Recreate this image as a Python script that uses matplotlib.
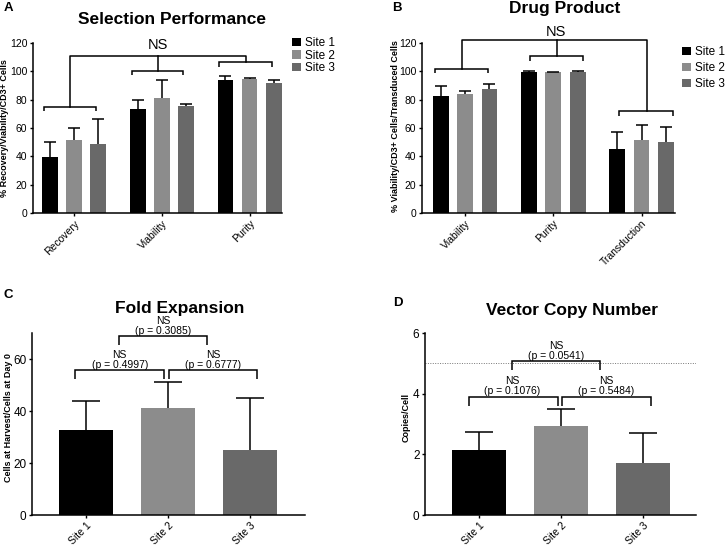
import numpy as np
import matplotlib
matplotlib.use('Agg')
import matplotlib.pyplot as plt
from matplotlib.patches import Patch

plt.rcParams['font.family'] = ['Liberation Sans', 'DejaVu Sans']

# данные
sites = ['Site 1', 'Site 2', 'Site 3']
site_colors = ['#000000', '#8c8c8c', '#696969']

sel_cats = ['Recovery', 'Viability', 'Purity']
sel_mean = [[39.5, 73.4, 93.6],   # Site 1
            [51.5, 81.2, 94.6],   # Site 2
            [48.7, 75.3, 91.8]]   # Site 3
sel_sd = [[10.3, 6.1, 2.9],
          [8.5, 12.9, 0.9],
          [17.7, 1.9, 2.3]]

dp_cats = ['Viability', 'Purity', 'Transduction']
dp_mean = [[82.7, 99.5, 45.4],
           [84.3, 99.8, 51.3],
           [87.8, 99.3, 49.9]]
dp_sd = [[6.8, 0.7, 12.0],
         [2.1, 0.0, 11.1],
         [3.5, 0.7, 11.0]]

fold_mean = [32.6, 41.3, 25.0]
fold_sd = [11.1, 9.9, 19.9]
fold_p = ['(p = 0.4997)', '(p = 0.6777)', '(p = 0.3085)']

vcn_mean = [2.13, 2.95, 1.70]
vcn_sd = [0.62, 0.55, 0.99]
vcn_p = ['(p = 0.1076)', '(p = 0.5484)', '(p = 0.0541)']
vcn_limit = 5

W, H = 726, 547
fig = plt.figure(figsize=(W / 100, H / 100), dpi=100)


def px_axes(l, t, r, b):
    return fig.add_axes([l / W, 1 - b / H, (r - l) / W, (b - t) / H])


def style(ax):
    for s in ['top', 'right']:
        ax.spines[s].set_visible(False)
    for s in ['left', 'bottom']:
        ax.spines[s].set_linewidth(1.1)
    ax.tick_params(width=1.0, length=2.5, labelsize=7.5, pad=1.5)


def bracket(ax, x1, x2, y, d1, d2=None, lw=1.1):
    if d2 is None:
        d2 = d1
    ax.plot([x1, x1, x2, x2], [y - d1, y, y, y - d2], color='k', lw=lw,
            clip_on=False, solid_capstyle='butt', solid_joinstyle='miter')


def ftext(x, y, s, **kw):
    fig.text(x / W, 1 - y / H, s, **kw)


def upper_err(ax, x, mean, sd, cap):
    # только верхний ус, как в Prism
    top = np.asarray(mean) + np.asarray(sd)
    ax.vlines(x, mean, top, color='k', lw=1.1)
    ax.plot(x, top, ls='none', marker='_', ms=cap, mew=1.1, color='k')


def grouped(ax, cats, mean, sd):
    x = np.arange(len(cats))
    offs = [-0.275, 0, 0.275]
    for i in range(3):
        ax.bar(x + offs[i], mean[i], 0.18, color=site_colors[i])
        upper_err(ax, x + offs[i], mean[i], sd[i], 8)
    ax.set_ylim(0, 120)
    ax.set_yticks(range(0, 121, 20))
    ax.set_xticks(x)
    ax.set_xticklabels(cats, rotation=45, ha='right', rotation_mode='anchor',
                       fontsize=8.5)
    style(ax)


# --- A ---
axA = px_axes(33, 43, 282, 213)
grouped(axA, sel_cats, sel_mean, sel_sd)
axA.set_xlim(-0.47, 2.37)
bracket(axA, -0.345, 0.25, 75, 2.8)
bracket(axA, 0.655, 1.24, 100.5, 3.2)
bracket(axA, 1.655, 2.26, 106.4, 3.2)
axA.plot([-0.05, -0.05, 1.955, 1.955], [75, 111, 111, 106.4], color='k',
         lw=1.1, clip_on=False)
axA.plot([0.95, 0.95], [111, 100.5], color='k', lw=1.1, clip_on=False)
axA.text(0.96, 118.8, 'NS', ha='center', va='center', fontsize=10.5)

# --- B ---
axB = px_axes(422, 43, 675, 213)
grouped(axB, dp_cats, dp_mean, dp_sd)
axB.set_xlim(-0.49, 2.38)
bracket(axB, -0.34, 0.26, 101.9, 3.0)
bracket(axB, 0.74, 1.34, 110.5, 3.3)
bracket(axB, 1.75, 2.36, 71.8, 3.5)
axB.plot([-0.04, -0.04, 2.06, 2.06], [101.9, 121.9, 121.9, 71.8], color='k',
         lw=1.1, clip_on=False)
axB.plot([1.04, 1.04], [121.9, 110.5], color='k', lw=1.1, clip_on=False)
axB.text(1.03, 127.8, 'NS', ha='center', va='center', fontsize=10.5)

# --- C ---
def single(ax, mean, sd):
    x = np.arange(3)
    ax.bar(x, mean, 0.66, color=site_colors)
    upper_err(ax, x, mean, sd, 19.5)
    ax.set_xticks(x)
    ax.set_xticklabels(sites, rotation=45, ha='right', rotation_mode='anchor',
                       fontsize=8.5)
    ax.set_xlim(-0.66, 2.67)
    style(ax)


axC = px_axes(32, 333, 305, 515)
single(axC, fold_mean, fold_sd)
axC.set_ylim(0, 70)
axC.set_yticks([0, 20, 40, 60])
axC.tick_params(axis='y', labelsize=8.5)
bracket(axC, -0.13, 0.95, 55.7, 3.4)
bracket(axC, 1.01, 2.09, 55.7, 3.4)
bracket(axC, 0.40, 1.48, 68.8, 3.6)
for xt, yt, p in [(0.41, 61.5, fold_p[0]), (1.55, 61.5, fold_p[1]),
                  (0.94, 74.6, fold_p[2])]:
    axC.text(xt, yt, 'NS', ha='center', va='center', fontsize=7.5, clip_on=False)
    axC.text(xt, yt - 4.0, p, ha='center', va='center', fontsize=7.5,
             clip_on=False)

# --- D ---
axD = px_axes(425, 333, 696, 515)
single(axD, vcn_mean, vcn_sd)
axD.set_xlim(-0.66, 2.65)
axD.set_ylim(0, 6)
axD.set_yticks([0, 2, 4, 6])
axD.tick_params(axis='y', labelsize=8.5)
axD.axhline(vcn_limit, color='#777777', lw=0.7, ls=(0, (1, 1.5)))
bracket(axD, -0.12, 0.96, 3.89, 0.31)
bracket(axD, 1.01, 2.10, 3.89, 0.31)
bracket(axD, 0.40, 1.48, 5.09, 0.3)
for xt, yt, p in [(0.41, 4.43, vcn_p[0]), (1.55, 4.43, vcn_p[1]),
                  (0.94, 5.58, vcn_p[2])]:
    axD.text(xt, yt, 'NS', ha='center', va='center', fontsize=7.5, clip_on=False)
    axD.text(xt, yt - 0.35, p, ha='center', va='center', fontsize=7.5,
             clip_on=False)

# подписи осей
ylab = dict(rotation=90, ha='center', va='center', fontsize=6.5,
            fontweight='bold')
ftext(5, 128, '% Recovery/Viability/CD3+ Cells', **ylab)
ftext(395, 126, '% Viability/CD3+ Cells/Transduced Cells', **ylab)
ftext(9, 418, 'Cells at Harvest/Cells at Day 0', **ylab)
ftext(406, 418, 'Copies/Cell', **ylab)

# заголовки
tt = dict(ha='center', va='center', fontsize=12.5, fontweight='bold')
ftext(172, 20, 'Selection Performance', **tt)
ftext(565, 8, 'Drug Product', **tt)
ftext(180, 308, 'Fold Expansion', **tt)
ftext(572, 310, 'Vector Copy Number', **tt)

pl = dict(ha='center', va='center', fontsize=9.5, fontweight='bold')
ftext(8, 8, 'A', **pl)
ftext(397, 8, 'B', **pl)
ftext(8, 295, 'C', **pl)
ftext(398, 303, 'D', **pl)

# легенды
handles = [Patch(facecolor=c) for c in site_colors]
fig.legend(handles, sites, loc='upper left', bbox_to_anchor=(292 / W, 1 - 37 / H),
           frameon=False, fontsize=8.5, handlelength=0.75, handleheight=0.75,
           handletextpad=0.35, labelspacing=0.05, borderpad=0, borderaxespad=0)
fig.legend(handles, sites, loc='upper left', bbox_to_anchor=(682 / W, 1 - 46 / H),
           frameon=False, fontsize=8.5, handlelength=0.75, handleheight=0.75,
           handletextpad=0.35, labelspacing=0.35, borderpad=0, borderaxespad=0)

fig.savefig('out.png', dpi=100)
